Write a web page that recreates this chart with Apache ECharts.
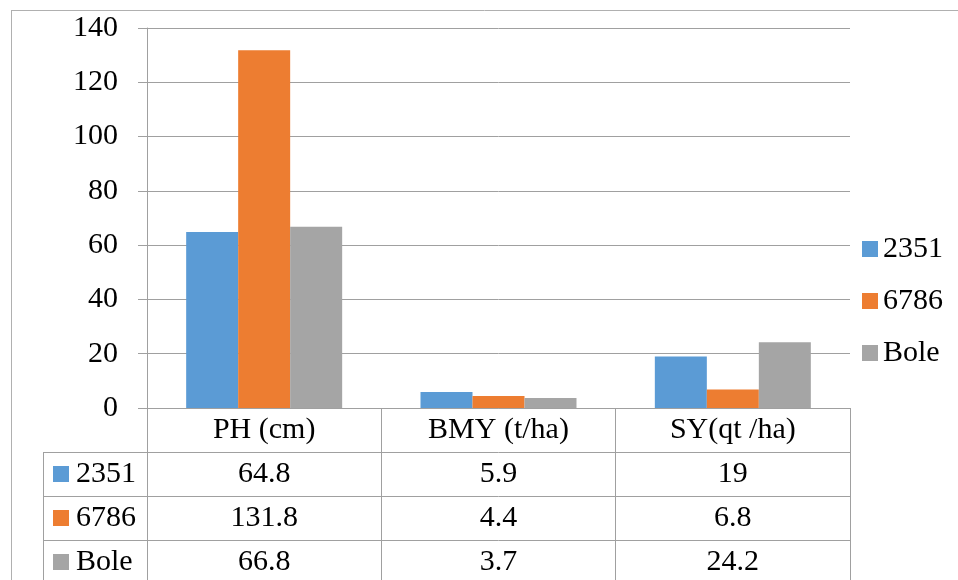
<!DOCTYPE html>
<html>
<head>
<meta charset="utf-8">
<script src="https://cdn.jsdelivr.net/npm/echarts@6/dist/echarts.min.js"></script>
<style>html,body{margin:0;padding:0;background:#fff;}#c{width:958px;height:580px;}</style>
</head>
<body>
<div id="c"></div>
<script>
var categories = ['PH (cm)', 'BMY (t/ha)', 'SY(qt /ha)'];
var seriesNames = ['2351', '6786', 'Bole'];
var s2351 = [64.8, 5.9, 19];
var s6786 = [131.8, 4.4, 6.8];
var sBole = [66.8, 3.7, 24.2];
var yTicks = [0, 20, 40, 60, 80, 100, 120, 140];

var colors = ['#5B9BD5', '#ED7D31', '#A5A5A5'];
var seriesData = [s2351, s6786, sBole];
var FONT = 'Liberation Serif, Tinos, Times New Roman, serif';
var FS = 30;
var LINE = '#A0A0A0';

var G = { left: 147, right: 108, top: 28, bottom: 172 };
var ROW = 44;
var W = 958, H = 580;
var plotBottom = H - G.bottom;

var chart = echarts.init(document.getElementById('c'), null, { renderer: 'canvas' });

var xAxes = [{
  type: 'category', data: categories, position: 'bottom', gridIndex: 0,
  axisLine: { show: true, lineStyle: { color: LINE, width: 1 } },
  axisTick: { show: true, length: ROW, lineStyle: { color: LINE } },
  axisLabel: { fontFamily: FONT, fontSize: FS, color: '#000', margin: 7 },
  splitLine: { show: false }
}];
for (var k = 0; k < 3; k++) {
  (function (k) {
    xAxes.push({
      type: 'category', data: categories, position: 'bottom', offset: ROW * (k + 1), gridIndex: 0,
      axisLine: { show: true, lineStyle: { color: LINE, width: 1 } },
      axisTick: { show: true, length: ROW, lineStyle: { color: LINE } },
      axisLabel: { fontFamily: FONT, fontSize: FS, color: '#000', margin: 7,
        formatter: function (v, i) { return String(seriesData[k][i]); } },
      splitLine: { show: false }
    });
  })(k);
}

var graphics = [
  { type: 'line', shape: { x1: 11, y1: 10.5, x2: W, y2: 10.5 }, style: { stroke: '#B0B0B0', lineWidth: 1 } },
  { type: 'line', shape: { x1: 11.5, y1: 10, x2: 11.5, y2: H }, style: { stroke: '#B0B0B0', lineWidth: 1 } },
  { type: 'line', shape: { x1: 43.5, y1: plotBottom + ROW, x2: 43.5, y2: H }, style: { stroke: LINE, lineWidth: 1 } }
];
for (var r = 0; r < 3; r++) {
  var yl = plotBottom + ROW * (r + 1) + 0.5;
  graphics.push({ type: 'line', shape: { x1: 43, y1: yl, x2: G.left, y2: yl }, style: { stroke: LINE, lineWidth: 1 } });
  var cy = plotBottom + ROW * (r + 1) + ROW / 2;
  graphics.push({ type: 'rect', shape: { x: 53, y: cy - 8, width: 16, height: 16 }, style: { fill: colors[r] } });
  graphics.push({ type: 'text', x: 76, y: cy, style: { text: seriesNames[r], fontFamily: FONT, fontSize: FS, fill: '#000', verticalAlign: 'middle' } });
}

var option = {
  animation: false,
  color: colors,
  textStyle: { fontFamily: FONT },
  grid: { left: G.left, right: G.right, top: G.top, bottom: G.bottom, containLabel: false },
  legend: {
    orient: 'vertical', left: 857, top: 229, icon: 'rect', itemWidth: 16, itemHeight: 16, itemGap: 22,
    textStyle: { fontFamily: FONT, fontSize: FS, color: '#000' },
    data: seriesNames
  },
  xAxis: xAxes,
  yAxis: {
    type: 'value', min: 0, max: 140, interval: 20,
    axisLine: { show: true, lineStyle: { color: LINE } },
    axisTick: { show: true, length: 9, lineStyle: { color: LINE } },
    axisLabel: { fontFamily: FONT, fontSize: FS, color: '#000', margin: 29,
      formatter: function (v) { return yTicks.indexOf(v) >= 0 ? String(v) : ''; } },
    splitLine: { show: true, lineStyle: { color: LINE } }
  },
  series: seriesNames.map(function (n, i) {
    return { name: n, type: 'bar', data: seriesData[i], barWidth: 52, barGap: '0%', xAxisIndex: 0,
      itemStyle: { color: colors[i] } };
  }),
  graphic: graphics
};
chart.setOption(option);
</script>
</body>
</html>
